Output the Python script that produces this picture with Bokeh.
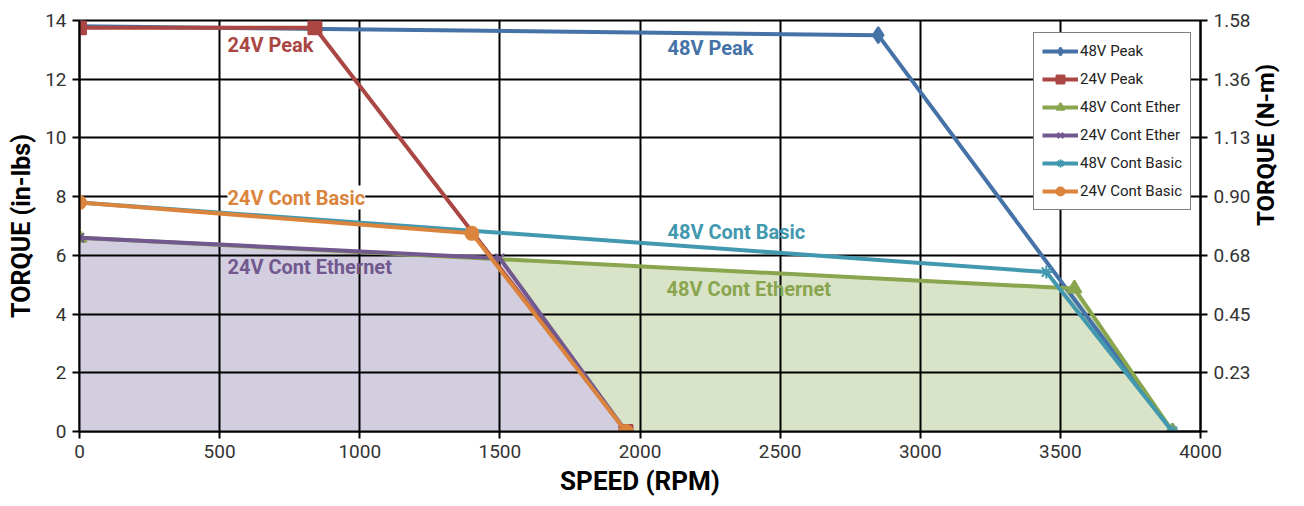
import math
from bokeh.plotting import figure
from bokeh.models import LinearAxis, FixedTicker, Label, Legend, LegendItem, Range1d
from bokeh.embed import file_html
from bokeh.resources import INLINE

# ---- data ----
speed_48_peak = [0, 2850, 3900]
torque_48_peak = [13.8, 13.5, 0]
speed_24_peak = [0, 840, 1950]
torque_24_peak = [13.75, 13.75, 0]
speed_48_ether = [0, 3550, 3900]
torque_48_ether = [6.6, 4.87, 0]
speed_24_ether = [0, 1500, 1950]
torque_24_ether = [6.6, 5.9, 0]
speed_48_basic = [0, 3450, 3900]
torque_48_basic = [7.8, 5.43, 0]
speed_24_basic = [0, 1400, 1950]
torque_24_basic = [7.8, 6.75, 0]

series_names = ["48V Peak", "24V Peak", "48V Cont Ether", "24V Cont Ether", "48V Cont Basic", "24V Cont Basic"]
label_texts = ["48V Peak", "24V Peak", "48V Cont Ethernet", "24V Cont Ethernet", "48V Cont Basic", "24V Cont Basic"]
x_ticks = [0, 500, 1000, 1500, 2000, 2500, 3000, 3500, 4000]
y_ticks = [0, 2, 4, 6, 8, 10, 12, 14]
nm_tick_labels = ["", "0.23", "0.45", "0.68", "0.90", "1.13", "1.36", "1.58"]

# ---- style ----
FONT = "Roboto"
colors = ["#4572A7", "#AA4643", "#89A54E", "#71588F", "#4198AF", "#DB843D"]
markers = ["diamond", "square", "triangle", "x", "asterisk", "circle"]
marker_sizes = [16, 13, 14, 13, 13, 13]
label_pos = [(2098, 13.08), (528, 13.15), (2095, 4.87), (528, 5.62), (2098, 6.78), (528, 7.97)]

p = figure(width=1296, height=498, x_range=Range1d(0, 4000), y_range=Range1d(0, 14),
           output_backend="svg", toolbar_location=None,
           min_border_left=79, min_border_right=96, min_border_top=20, min_border_bottom=67)
p.background_fill_color = "white"
p.border_fill_color = "white"
p.outline_line_color = "black"
p.outline_line_width = 2

# fills
p.varea(x=speed_48_ether, y1=[0] * len(speed_48_ether), y2=torque_48_ether,
        fill_color="#D9E3C8", level="image")
p.varea(x=speed_24_ether, y1=[0] * len(speed_24_ether), y2=torque_24_ether,
        fill_color="#D3CDE0", level="image")

all_x = [speed_48_peak, speed_24_peak, speed_48_ether, speed_24_ether, speed_48_basic, speed_24_basic]
all_y = [torque_48_peak, torque_24_peak, torque_48_ether, torque_24_ether, torque_48_basic, torque_24_basic]

items = []
for xs, ys, c, m, ms, name in zip(all_x, all_y, colors, markers, marker_sizes, series_names):
    lr = p.line(xs, ys, line_color=c, line_width=4)
    sr = p.scatter(xs, ys, marker=m, size=ms, fill_color=c, line_color=c, line_width=2)
    items.append(LegendItem(label=name, renderers=[lr, sr]))

legend = Legend(items=items, location=(954, 221))
legend.label_text_font = FONT
legend.label_text_font_size = "15px"
legend.label_text_color = "#222222"
legend.glyph_width = 36
legend.glyph_height = 20
legend.spacing = 8
legend.padding = 8
legend.margin = 0
legend.label_standoff = 2
legend.border_line_color = "black"
legend.border_line_width = 1.5
legend.background_fill_alpha = 1
p.add_layout(legend, "center")

# series labels
for (lx, ly), t, c in zip(label_pos, label_texts, colors):
    lab = Label(x=lx, y=ly, text=t, text_color=c, text_font=FONT, text_font_style="bold",
                text_font_size="20px", text_baseline="middle")
    if t == "24V Cont Basic":
        lab.background_fill_color = "white"
    p.add_layout(lab)

# grid
p.xgrid.ticker = FixedTicker(ticks=x_ticks)
p.ygrid.ticker = FixedTicker(ticks=y_ticks)
for g in (p.xgrid, p.ygrid):
    g.grid_line_color = "black"
    g.grid_line_width = 2

# axes
def style_axis(ax):
    ax.axis_line_color = "black"
    ax.axis_line_width = 2
    ax.major_tick_line_color = "black"
    ax.major_tick_line_width = 2
    ax.major_tick_in = 0
    ax.major_tick_out = 7
    ax.minor_tick_line_color = None
    ax.major_label_text_font = FONT
    ax.major_label_text_font_size = "19px"
    ax.major_label_text_color = "#333333"
    ax.axis_label_text_font = FONT
    ax.axis_label_text_font_style = "bold"
    ax.axis_label_text_color = "black"

xa = p.xaxis[0]
xa.ticker = FixedTicker(ticks=x_ticks)
xa.axis_label = "SPEED (RPM)"
style_axis(xa)
xa.axis_label_text_font_size = "26px"
xa.axis_label_standoff = 5
xa.major_label_standoff = 6

ya = p.yaxis[0]
ya.ticker = FixedTicker(ticks=y_ticks)
ya.axis_label = "TORQUE (in-lbs)"
style_axis(ya)
ya.axis_label_text_font_size = "25px"
ya.axis_label_standoff = 6
ya.major_label_standoff = 6

ra = LinearAxis(ticker=FixedTicker(ticks=y_ticks),
                major_label_overrides={t: s for t, s in zip(y_ticks, nm_tick_labels)},
                axis_label="TORQUE (N-m)")
style_axis(ra)
ra.axis_label_text_font_size = "24px"
ra.axis_label_standoff = 12
ra.axis_label_text_baseline = "top"
ra.major_label_standoff = 6
if hasattr(ra, "axis_label_orientation"):
    ra.axis_label_orientation = math.pi / 2
p.add_layout(ra, "right")

open("out.html", "w").write(file_html(p, INLINE))
